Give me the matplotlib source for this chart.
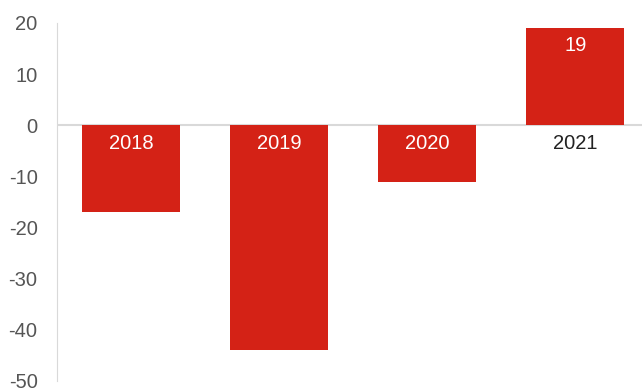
import numpy as np
import matplotlib.pyplot as plt

plt.rcParams['font.family'] = ['Liberation Sans', 'DejaVu Sans']
plt.rcParams['axes.unicode_minus'] = False

years = ['2018', '2019', '2020', '2021']
values = [-17, -44, -11, 19]
yticks = [-50, -40, -30, -20, -10, 0, 10, 20]

RED = '#d42216'
GREY = '#d9d9d9'

fig = plt.figure(figsize=(6.42, 3.89), dpi=100)
ax = fig.add_axes([57/642, 1 - 381/389, 1 - 57/642, (381 - 23)/389])

x = np.arange(len(years))
bars = ax.bar(x, values, width=0.66, color=RED, zorder=2)

ax.set_xlim(-0.5, 3.45)
ax.set_ylim(-50, 20)
ax.set_yticks(yticks)
ax.set_xticks([])
ax.tick_params(axis='y', length=0, pad=14, labelsize=14.5, labelcolor='#555555')

for s in ['top', 'right', 'bottom']:
    ax.spines[s].set_visible(False)
ax.spines['left'].set_color(GREY)
ax.axhline(0, color=GREY, lw=1.5, zorder=1)

# year labels sit just under the zero line
for xi, yr, v in zip(x, years, values):
    c = 'white' if v < 0 else '#222222'
    ax.annotate(yr, (xi, 0), xytext=(0, -18), textcoords='offset pixels',
                ha='center', va='center', color=c, fontsize=14.5)
    if v > 0:
        ax.annotate(str(v), (xi, v), xytext=(0, -17), textcoords='offset pixels',
                    ha='center', va='center', color='white', fontsize=14.5)

fig.savefig('out.png', dpi=100)
